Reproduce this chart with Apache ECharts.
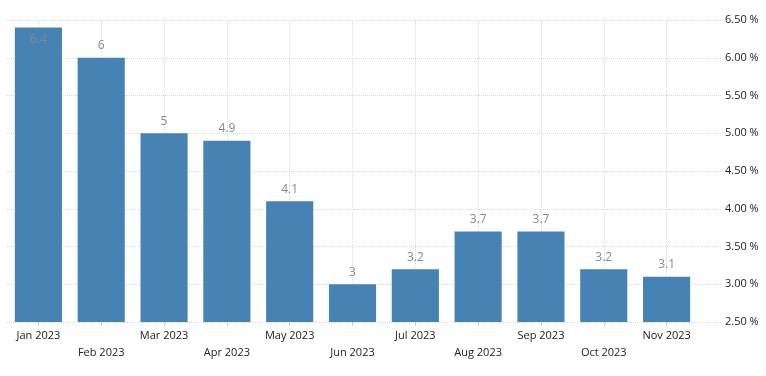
<!DOCTYPE html>
<html>
<head>
<meta charset="utf-8">
<script src="https://cdn.jsdelivr.net/npm/echarts@6/dist/echarts.min.js"></script>
<style>
  html, body { margin: 0; padding: 0; background: #fff; }
  #chart { width: 766px; height: 376px; }
</style>
</head>
<body>
<div id="chart"></div>
<script>
const months = ['Jan 2023', 'Feb 2023', 'Mar 2023', 'Apr 2023', 'May 2023', 'Jun 2023',
  'Jul 2023', 'Aug 2023', 'Sep 2023', 'Oct 2023', 'Nov 2023'];
const rates = [6.4, 6, 5, 4.9, 4.1, 3, 3.2, 3.7, 3.7, 3.2, 3.1];
const yTicks = [2.5, 3, 3.5, 4, 4.5, 5, 5.5, 6, 6.5];

const chart = echarts.init(document.getElementById('chart'));
const gridColor = '#d9d9d9';
const font = 'Open Sans, Liberation Sans, sans-serif';

const option = {
  animation: false,
  grid: { left: 7, right: 68, top: 20, bottom: 54, containLabel: false },
  xAxis: {
    type: 'category',
    data: months,
    axisLine: { show: false },
    axisTick: { show: true, alignWithLabel: true, length: 4, lineStyle: { color: '#ccc' } },
    splitLine: { show: false },
    axisLabel: {
      interval: 0,
      color: '#222',
      fontFamily: font,
      fontSize: 11,
      lineHeight: 17,
      margin: 5,
      formatter: (v, i) => (i % 2 ? '\n' + v : v)
    }
  },
  yAxis: {
    type: 'value',
    position: 'right',
    min: yTicks[0],
    max: yTicks[yTicks.length - 1],
    interval: 0.5,
    axisLine: { show: false },
    axisTick: { show: true, length: 24, lineStyle: { color: gridColor, type: 'dotted' } },
    splitLine: { lineStyle: { color: gridColor, type: 'dotted' } },
    axisLabel: {
      color: '#222',
      fontFamily: font,
      fontSize: 11,
      margin: 27,
      formatter: (v) => v.toFixed(2) + ' %'
    }
  },
  series: [{
    type: 'bar',
    barCategoryGap: '25%',
    itemStyle: { color: '#4682b4' },
    label: {
      show: true,
      position: 'top',
      distance: 6,
      color: '#888',
      fontFamily: font,
      fontSize: 12
    },
    // vertical dotted grid lines at each month's centre
    markLine: {
      silent: true,
      symbol: 'none',
      label: { show: false },
      z: 0,
      lineStyle: { color: gridColor, type: 'dotted', width: 1 },
      data: months.map((m) => ({ xAxis: m }))
    },
    data: rates.map((v, i) => i === 0
      ? { value: v, label: { position: 'insideTop', distance: 6 } }
      : v)
  }]
};

chart.setOption(option);
</script>
</body>
</html>
